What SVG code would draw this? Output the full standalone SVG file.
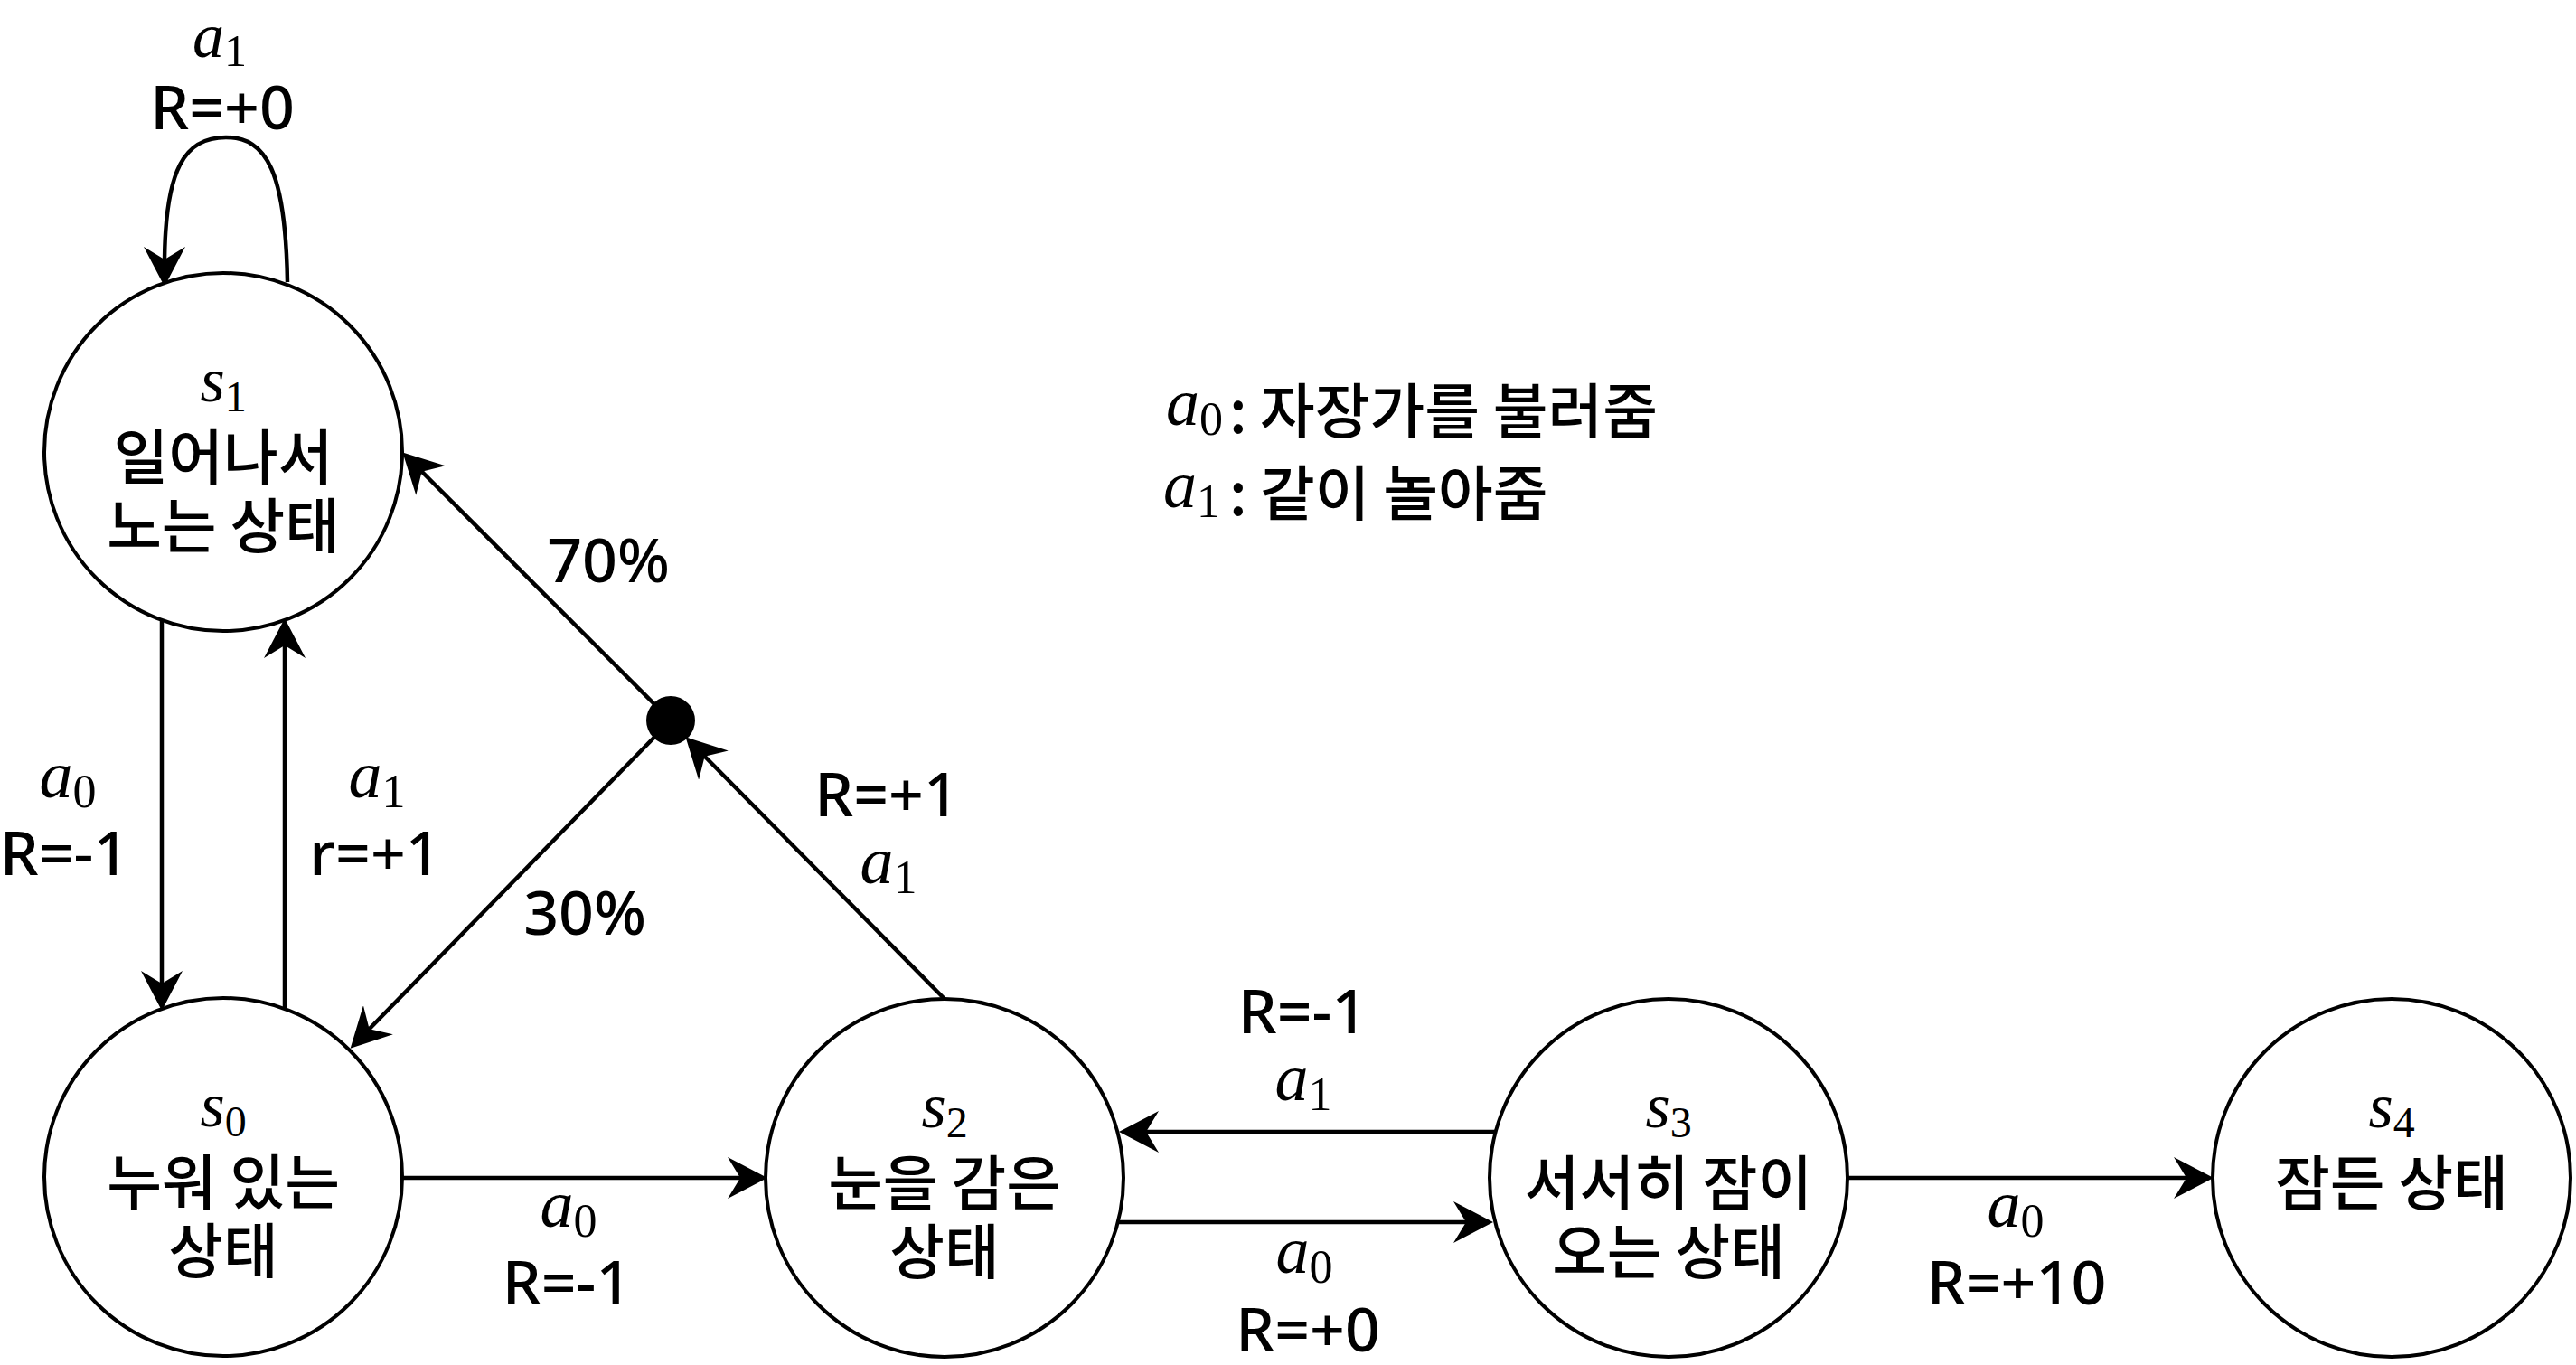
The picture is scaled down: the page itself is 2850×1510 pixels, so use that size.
<svg xmlns="http://www.w3.org/2000/svg" width="2850" height="1510" viewBox="0 0 2850 1510">
<style>
.node{fill:#fff;stroke:#000;stroke-width:4}
.edge{fill:none;stroke:#000;stroke-width:4.5;marker-end:url(#arr)}
.t{font-family:"Noto Sans","Noto Sans CJK KR",sans-serif;font-size:68px;font-weight:500;text-anchor:middle;fill:#000}
.k{font-family:"Noto Sans CJK KR",sans-serif;font-size:66px;font-weight:500;text-anchor:middle;fill:#000}
.kl{font-family:"Noto Sans CJK KR",sans-serif;font-size:66px;font-weight:500;fill:#000}
.m{font-family:"Liberation Serif",serif;font-style:italic;font-size:74px;text-anchor:middle;fill:#000}
.ml{font-family:"Liberation Serif",serif;font-style:italic;font-size:74px;fill:#000}
.ms{font-family:"Liberation Serif",serif;font-style:italic;font-size:70px;text-anchor:middle;fill:#000}
.sub{font-style:normal;font-size:52px}
.subs{font-style:normal;font-size:48px}
</style>
<defs>
<marker id="arr" markerUnits="userSpaceOnUse" viewBox="0 0 44 46" markerWidth="44" markerHeight="46" refX="22" refY="23" orient="auto">
<path d="M0,0 L44,23 L0,46 L14,23 Z" fill="#000"/>
</marker>
</defs>
<rect width="2850" height="1510" fill="#fff"/>
<g id="connectors">
<path class="edge" d="M318,312 C316,190 295,152 250,152 C205,152 182,185 182,295"/>
<path class="edge" d="M179,686 L179,1096"/>
<path class="edge" d="M315,1116 L315,706"/>
<path class="edge" d="M742,797 L461,516"/>
<path class="edge" d="M742,797 L403,1144"/>
<path class="edge" d="M1045,1105 L774,831"/>
<path class="edge" d="M445,1303 L827,1303"/>
<path class="edge" d="M1654,1252 L1260,1252"/>
<path class="edge" d="M1237,1352 L1630,1352"/>
<path class="edge" d="M2044,1303 L2427,1303"/>
</g>
<g id="edge-labels">
<text class="m" x="243" y="63" style="font-size:70px">a<tspan class="sub" dy="10" style="font-size:50px">1</tspan></text>
<text class="t" x="246" y="143">R=+0</text>
<text class="m" x="75" y="882">a<tspan class="sub" dy="11">0</tspan></text>
<text class="t" x="71" y="968">R=-1</text>
<text class="m" x="417" y="882">a<tspan class="sub" dy="11">1</tspan></text>
<text class="t" x="415" y="968">r=+1</text>
<text class="t" x="673" y="644">70%</text>
<text class="t" x="647" y="1034">30%</text>
<text class="t" x="981" y="903">R=+1</text>
<text class="m" x="983" y="977">a<tspan class="sub" dy="11">1</tspan></text>
<text class="m" x="629" y="1357">a<tspan class="sub" dy="11">0</tspan></text>
<text class="t" x="627" y="1443">R=-1</text>
<text class="t" x="1441" y="1143">R=-1</text>
<text class="m" x="1442" y="1217">a<tspan class="sub" dy="11">1</tspan></text>
<text class="m" x="1443" y="1408">a<tspan class="sub" dy="11">0</tspan></text>
<text class="t" x="1447" y="1495">R=+0</text>
<text class="m" x="2230" y="1357">a<tspan class="sub" dy="11">0</tspan></text>
<text class="t" x="2231" y="1443">R=+10</text>
</g>
<g id="s1">
<circle class="node" cx="247" cy="500" r="198"/>
<text class="ms" x="247" y="444">s<tspan class="subs" dy="11">1</tspan></text>
<text class="k" x="247" y="530">일어나서</text>
<text class="k" x="247" y="606">노는 상태</text>
</g>
<g id="s0">
<circle class="node" cx="247" cy="1302" r="198"/>
<text class="ms" x="247" y="1246">s<tspan class="subs" dy="11">0</tspan></text>
<text class="k" x="247" y="1332">누워 있는</text>
<text class="k" x="247" y="1408">상태</text>
</g>
<g id="s2">
<circle class="node" cx="1045" cy="1303" r="198"/>
<text class="ms" x="1045" y="1247">s<tspan class="subs" dy="11">2</tspan></text>
<text class="k" x="1045" y="1333">눈을 감은</text>
<text class="k" x="1045" y="1409">상태</text>
</g>
<g id="s3">
<circle class="node" cx="1846" cy="1303" r="198"/>
<text class="ms" x="1846" y="1247">s<tspan class="subs" dy="11">3</tspan></text>
<text class="k" x="1846" y="1333">서서히 잠이</text>
<text class="k" x="1846" y="1409">오는 상태</text>
</g>
<g id="s4">
<circle class="node" cx="2646" cy="1303" r="198"/>
<text class="ms" x="2646" y="1247">s<tspan class="subs" dy="11">4</tspan></text>
<text class="k" x="2646" y="1333">잠든 상태</text>
</g>
<g id="junction">
<circle cx="742" cy="797" r="27" fill="#000"/>
</g>
<g id="legend">
<text class="ml" x="1290" y="470">a<tspan class="sub" dy="11">0</tspan></text>
<text class="kl" x="1360" y="479">:</text>
<text class="kl" x="1394" y="479">자장가를 불러줌</text>
<text class="ml" x="1287" y="561">a<tspan class="sub" dy="11">1</tspan></text>
<text class="kl" x="1360" y="570">:</text>
<text class="kl" x="1394" y="570">같이 놀아줌</text>
</g>
</svg>
